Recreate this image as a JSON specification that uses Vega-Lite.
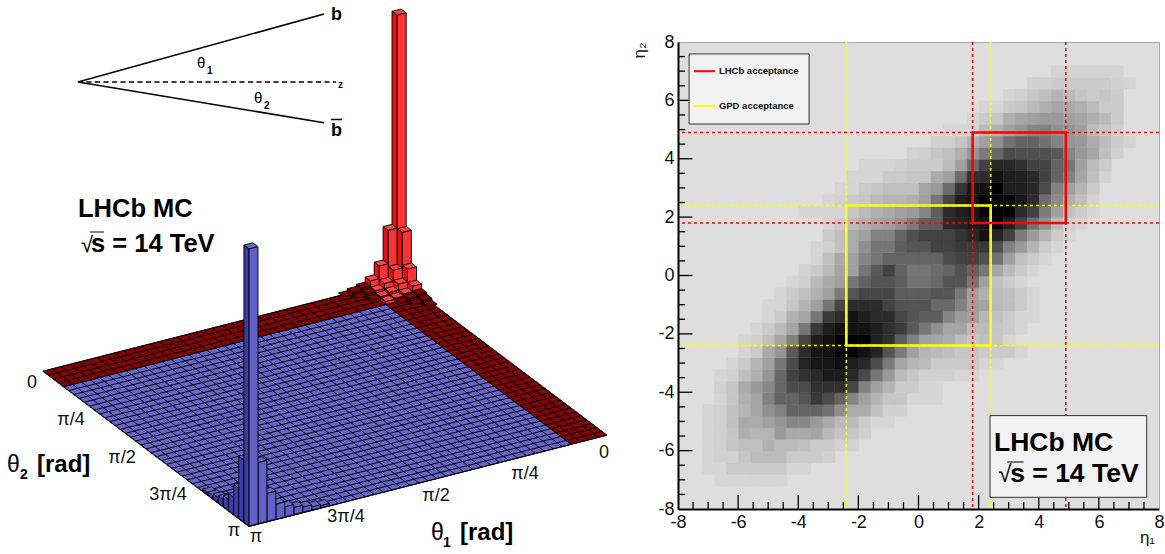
{"$schema":"https://vega.github.io/schema/vega-lite/v6.json","padding":0,"spacing":0,"bounds":"flush","background":"white","config":{"font":"Liberation Sans","view":{"stroke":null}},
"datasets":{
"surface":[{"p":1,"f":"d","x":401,"y":280},{"p":1,"f":"d","x":43,"y":371.2},{"p":1,"f":"d","x":249,"y":526.4},{"p":1,"f":"d","x":607,"y":435.2},{"p":2,"f":"b","x":385.8,"y":304.6},{"p":2,"f":"b","x":63.6,"y":386.7},{"p":2,"f":"b","x":249,"y":526.4},{"p":2,"f":"b","x":571.2,"y":444.3}],
"mesh":[{"l":"i0","x":401,"y":280},{"l":"i0","x":607,"y":435.2},{"l":"i1","x":392.1,"y":282.3},{"l":"i1","x":598.1,"y":437.5},{"l":"i2","x":383.1,"y":284.6},{"l":"i2","x":589.1,"y":439.8},{"l":"i3","x":374.2,"y":286.8},{"l":"i3","x":580.2,"y":442},{"l":"i4","x":365.2,"y":289.1},{"l":"i4","x":571.2,"y":444.3},{"l":"i5","x":356.3,"y":291.4},{"l":"i5","x":562.3,"y":446.6},{"l":"i6","x":347.3,"y":293.7},{"l":"i6","x":553.3,"y":448.9},{"l":"i7","x":338.4,"y":296},{"l":"i7","x":544.4,"y":451.2},{"l":"i8","x":329.4,"y":298.2},{"l":"i8","x":535.4,"y":453.4},{"l":"i9","x":320.5,"y":300.5},{"l":"i9","x":526.5,"y":455.7},{"l":"i10","x":311.5,"y":302.8},{"l":"i10","x":517.5,"y":458},{"l":"i11","x":302.6,"y":305.1},{"l":"i11","x":508.6,"y":460.3},{"l":"i12","x":293.6,"y":307.4},{"l":"i12","x":499.6,"y":462.6},{"l":"i13","x":284.7,"y":309.6},{"l":"i13","x":490.7,"y":464.8},{"l":"i14","x":275.7,"y":311.9},{"l":"i14","x":481.7,"y":467.1},{"l":"i15","x":266.8,"y":314.2},{"l":"i15","x":472.8,"y":469.4},{"l":"i16","x":257.8,"y":316.5},{"l":"i16","x":463.8,"y":471.7},{"l":"i17","x":248.9,"y":318.8},{"l":"i17","x":454.9,"y":474},{"l":"i18","x":239.9,"y":321},{"l":"i18","x":445.9,"y":476.2},{"l":"i19","x":231,"y":323.3},{"l":"i19","x":437,"y":478.5},{"l":"i20","x":222,"y":325.6},{"l":"i20","x":428,"y":480.8},{"l":"i21","x":213.1,"y":327.9},{"l":"i21","x":419.1,"y":483.1},{"l":"i22","x":204.1,"y":330.2},{"l":"i22","x":410.1,"y":485.4},{"l":"i23","x":195.2,"y":332.4},{"l":"i23","x":401.2,"y":487.6},{"l":"i24","x":186.2,"y":334.7},{"l":"i24","x":392.2,"y":489.9},{"l":"i25","x":177.3,"y":337},{"l":"i25","x":383.3,"y":492.2},{"l":"i26","x":168.3,"y":339.3},{"l":"i26","x":374.3,"y":494.5},{"l":"i27","x":159.4,"y":341.6},{"l":"i27","x":365.4,"y":496.8},{"l":"i28","x":150.4,"y":343.8},{"l":"i28","x":356.4,"y":499},{"l":"i29","x":141.5,"y":346.1},{"l":"i29","x":347.5,"y":501.3},{"l":"i30","x":132.5,"y":348.4},{"l":"i30","x":338.5,"y":503.6},{"l":"i31","x":123.6,"y":350.7},{"l":"i31","x":329.6,"y":505.9},{"l":"i32","x":114.6,"y":353},{"l":"i32","x":320.6,"y":508.2},{"l":"i33","x":105.7,"y":355.2},{"l":"i33","x":311.7,"y":510.4},{"l":"i34","x":96.7,"y":357.5},{"l":"i34","x":302.7,"y":512.7},{"l":"i35","x":87.8,"y":359.8},{"l":"i35","x":293.8,"y":515},{"l":"i36","x":78.8,"y":362.1},{"l":"i36","x":284.8,"y":517.3},{"l":"i37","x":69.9,"y":364.4},{"l":"i37","x":275.9,"y":519.6},{"l":"i38","x":60.9,"y":366.6},{"l":"i38","x":266.9,"y":521.8},{"l":"i39","x":52,"y":368.9},{"l":"i39","x":258,"y":524.1},{"l":"i40","x":43,"y":371.2},{"l":"i40","x":249,"y":526.4},
{"l":"j0","x":401,"y":280},{"l":"j0","x":43,"y":371.2},{"l":"j1","x":406.2,"y":283.9},{"l":"j1","x":48.2,"y":375.1},{"l":"j2","x":411.3,"y":287.8},{"l":"j2","x":53.3,"y":379},{"l":"j3","x":416.5,"y":291.6},{"l":"j3","x":58.5,"y":382.8},{"l":"j4","x":421.6,"y":295.5},{"l":"j4","x":63.6,"y":386.7},{"l":"j5","x":426.8,"y":299.4},{"l":"j5","x":68.8,"y":390.6},{"l":"j6","x":431.9,"y":303.3},{"l":"j6","x":73.9,"y":394.5},{"l":"j7","x":437.1,"y":307.2},{"l":"j7","x":79.1,"y":398.4},{"l":"j8","x":442.2,"y":311},{"l":"j8","x":84.2,"y":402.2},{"l":"j9","x":447.4,"y":314.9},{"l":"j9","x":89.4,"y":406.1},{"l":"j10","x":452.5,"y":318.8},{"l":"j10","x":94.5,"y":410},{"l":"j11","x":457.7,"y":322.7},{"l":"j11","x":99.7,"y":413.9},{"l":"j12","x":462.8,"y":326.6},{"l":"j12","x":104.8,"y":417.8},{"l":"j13","x":468,"y":330.4},{"l":"j13","x":110,"y":421.6},{"l":"j14","x":473.1,"y":334.3},{"l":"j14","x":115.1,"y":425.5},{"l":"j15","x":478.3,"y":338.2},{"l":"j15","x":120.3,"y":429.4},{"l":"j16","x":483.4,"y":342.1},{"l":"j16","x":125.4,"y":433.3},{"l":"j17","x":488.6,"y":346},{"l":"j17","x":130.6,"y":437.2},{"l":"j18","x":493.7,"y":349.8},{"l":"j18","x":135.7,"y":441},{"l":"j19","x":498.9,"y":353.7},{"l":"j19","x":140.9,"y":444.9},{"l":"j20","x":504,"y":357.6},{"l":"j20","x":146,"y":448.8},{"l":"j21","x":509.2,"y":361.5},{"l":"j21","x":151.2,"y":452.7},{"l":"j22","x":514.3,"y":365.4},{"l":"j22","x":156.3,"y":456.6},{"l":"j23","x":519.5,"y":369.2},{"l":"j23","x":161.5,"y":460.4},{"l":"j24","x":524.6,"y":373.1},{"l":"j24","x":166.6,"y":464.3},{"l":"j25","x":529.8,"y":377},{"l":"j25","x":171.8,"y":468.2},{"l":"j26","x":534.9,"y":380.9},{"l":"j26","x":176.9,"y":472.1},{"l":"j27","x":540.1,"y":384.8},{"l":"j27","x":182.1,"y":476},{"l":"j28","x":545.2,"y":388.6},{"l":"j28","x":187.2,"y":479.8},{"l":"j29","x":550.4,"y":392.5},{"l":"j29","x":192.4,"y":483.7},{"l":"j30","x":555.5,"y":396.4},{"l":"j30","x":197.5,"y":487.6},{"l":"j31","x":560.7,"y":400.3},{"l":"j31","x":202.7,"y":491.5},{"l":"j32","x":565.8,"y":404.2},{"l":"j32","x":207.8,"y":495.4},{"l":"j33","x":571,"y":408},{"l":"j33","x":213,"y":499.2},{"l":"j34","x":576.1,"y":411.9},{"l":"j34","x":218.1,"y":503.1},{"l":"j35","x":581.3,"y":415.8},{"l":"j35","x":223.3,"y":507},{"l":"j36","x":586.4,"y":419.7},{"l":"j36","x":228.4,"y":510.9},{"l":"j37","x":591.6,"y":423.6},{"l":"j37","x":233.6,"y":514.8},{"l":"j38","x":596.7,"y":427.4},{"l":"j38","x":238.7,"y":518.6},{"l":"j39","x":601.9,"y":431.3},{"l":"j39","x":243.9,"y":522.5},{"l":"j40","x":607,"y":435.2},{"l":"j40","x":249,"y":526.4}],
"bars":[
{"p":10,"f":"t","x":401,"y":9},{"p":10,"f":"t","x":392,"y":11.3},{"p":10,"f":"t","x":397.2,"y":15.2},{"p":10,"f":"t","x":406.2,"y":12.9},
{"p":11,"f":"l","x":392,"y":11.3},{"p":11,"f":"l","x":397.2,"y":15.2},{"p":11,"f":"l","x":397.2,"y":286.2},{"p":11,"f":"l","x":392,"y":282.3},
{"p":12,"f":"r","x":406.2,"y":12.9},{"p":12,"f":"r","x":397.2,"y":15.2},{"p":12,"f":"r","x":397.2,"y":286.2},{"p":12,"f":"r","x":406.2,"y":283.9},
{"p":13,"f":"t","x":392,"y":224.3},{"p":13,"f":"t","x":383.1,"y":226.6},{"p":13,"f":"t","x":388.3,"y":230.4},{"p":13,"f":"t","x":397.2,"y":228.2},
{"p":14,"f":"l","x":383.1,"y":226.6},{"p":14,"f":"l","x":388.3,"y":230.4},{"p":14,"f":"l","x":388.3,"y":288.4},{"p":14,"f":"l","x":383.1,"y":284.6},
{"p":15,"f":"r","x":397.2,"y":228.2},{"p":15,"f":"r","x":388.3,"y":230.4},{"p":15,"f":"r","x":388.3,"y":288.4},{"p":15,"f":"r","x":397.2,"y":286.2},
{"p":16,"f":"t","x":406.2,"y":226.4},{"p":16,"f":"t","x":397.2,"y":228.7},{"p":16,"f":"t","x":402.4,"y":232.5},{"p":16,"f":"t","x":411.3,"y":230.3},
{"p":17,"f":"l","x":397.2,"y":228.7},{"p":17,"f":"l","x":402.4,"y":232.5},{"p":17,"f":"l","x":402.4,"y":290},{"p":17,"f":"l","x":397.2,"y":286.2},
{"p":18,"f":"r","x":411.3,"y":230.3},{"p":18,"f":"r","x":402.4,"y":232.5},{"p":18,"f":"r","x":402.4,"y":290},{"p":18,"f":"r","x":411.3,"y":287.8},
{"p":19,"f":"t","x":383.1,"y":260},{"p":19,"f":"t","x":374.2,"y":262.2},{"p":19,"f":"t","x":379.3,"y":266.1},{"p":19,"f":"t","x":388.3,"y":263.8},
{"p":20,"f":"l","x":374.2,"y":262.2},{"p":20,"f":"l","x":379.3,"y":266.1},{"p":20,"f":"l","x":379.3,"y":290.7},{"p":20,"f":"l","x":374.2,"y":286.8},
{"p":21,"f":"r","x":388.3,"y":263.8},{"p":21,"f":"r","x":379.3,"y":266.1},{"p":21,"f":"r","x":379.3,"y":290.7},{"p":21,"f":"r","x":388.3,"y":288.4},
{"p":22,"f":"t","x":397.2,"y":264.2},{"p":22,"f":"t","x":388.3,"y":266.4},{"p":22,"f":"t","x":393.4,"y":270.3},{"p":22,"f":"t","x":402.4,"y":268},
{"p":23,"f":"l","x":388.3,"y":266.4},{"p":23,"f":"l","x":393.4,"y":270.3},{"p":23,"f":"l","x":393.4,"y":292.3},{"p":23,"f":"l","x":388.3,"y":288.4},
{"p":24,"f":"r","x":402.4,"y":268},{"p":24,"f":"r","x":393.4,"y":270.3},{"p":24,"f":"r","x":393.4,"y":292.3},{"p":24,"f":"r","x":402.4,"y":290},
{"p":25,"f":"t","x":411.3,"y":263},{"p":25,"f":"t","x":402.4,"y":265.2},{"p":25,"f":"t","x":407.5,"y":269.1},{"p":25,"f":"t","x":416.5,"y":266.8},
{"p":26,"f":"l","x":402.4,"y":265.2},{"p":26,"f":"l","x":407.5,"y":269.1},{"p":26,"f":"l","x":407.5,"y":293.9},{"p":26,"f":"l","x":402.4,"y":290},
{"p":27,"f":"r","x":416.5,"y":266.8},{"p":27,"f":"r","x":407.5,"y":269.1},{"p":27,"f":"r","x":407.5,"y":293.9},{"p":27,"f":"r","x":416.5,"y":291.6},
{"p":28,"f":"t","x":374.2,"y":274.8},{"p":28,"f":"t","x":365.2,"y":277.1},{"p":28,"f":"t","x":370.4,"y":281},{"p":28,"f":"t","x":379.3,"y":278.7},
{"p":29,"f":"l","x":365.2,"y":277.1},{"p":29,"f":"l","x":370.4,"y":281},{"p":29,"f":"l","x":370.4,"y":293},{"p":29,"f":"l","x":365.2,"y":289.1},
{"p":30,"f":"r","x":379.3,"y":278.7},{"p":30,"f":"r","x":370.4,"y":281},{"p":30,"f":"r","x":370.4,"y":293},{"p":30,"f":"r","x":379.3,"y":290.7},
{"p":31,"f":"t","x":388.3,"y":277.4},{"p":31,"f":"t","x":379.3,"y":279.7},{"p":31,"f":"t","x":384.5,"y":283.6},{"p":31,"f":"t","x":393.4,"y":281.3},
{"p":32,"f":"l","x":379.3,"y":279.7},{"p":32,"f":"l","x":384.5,"y":283.6},{"p":32,"f":"l","x":384.5,"y":294.6},{"p":32,"f":"l","x":379.3,"y":290.7},
{"p":33,"f":"r","x":393.4,"y":281.3},{"p":33,"f":"r","x":384.5,"y":283.6},{"p":33,"f":"r","x":384.5,"y":294.6},{"p":33,"f":"r","x":393.4,"y":292.3},
{"p":34,"f":"t","x":402.4,"y":278},{"p":34,"f":"t","x":393.4,"y":280.3},{"p":34,"f":"t","x":398.6,"y":284.2},{"p":34,"f":"t","x":407.5,"y":281.9},
{"p":35,"f":"l","x":393.4,"y":280.3},{"p":35,"f":"l","x":398.6,"y":284.2},{"p":35,"f":"l","x":398.6,"y":296.2},{"p":35,"f":"l","x":393.4,"y":292.3},
{"p":36,"f":"r","x":407.5,"y":281.9},{"p":36,"f":"r","x":398.6,"y":284.2},{"p":36,"f":"r","x":398.6,"y":296.2},{"p":36,"f":"r","x":407.5,"y":293.9},
{"p":37,"f":"t","x":416.5,"y":280.1},{"p":37,"f":"t","x":407.5,"y":282.4},{"p":37,"f":"t","x":412.7,"y":286.3},{"p":37,"f":"t","x":421.6,"y":284},
{"p":38,"f":"l","x":407.5,"y":282.4},{"p":38,"f":"l","x":412.7,"y":286.3},{"p":38,"f":"l","x":412.7,"y":297.8},{"p":38,"f":"l","x":407.5,"y":293.9},
{"p":39,"f":"r","x":421.6,"y":284},{"p":39,"f":"r","x":412.7,"y":286.3},{"p":39,"f":"r","x":412.7,"y":297.8},{"p":39,"f":"r","x":421.6,"y":295.5},
{"p":40,"f":"d","x":365.2,"y":282.1},{"p":40,"f":"d","x":356.3,"y":284.4},{"p":40,"f":"d","x":361.4,"y":288.3},{"p":40,"f":"d","x":370.4,"y":286},
{"p":41,"f":"e","x":356.3,"y":284.4},{"p":41,"f":"e","x":361.4,"y":288.3},{"p":41,"f":"e","x":361.4,"y":295.3},{"p":41,"f":"e","x":356.3,"y":291.4},
{"p":42,"f":"e","x":370.4,"y":286},{"p":42,"f":"e","x":361.4,"y":288.3},{"p":42,"f":"e","x":361.4,"y":295.3},{"p":42,"f":"e","x":370.4,"y":293},
{"p":43,"f":"t","x":379.3,"y":284.7},{"p":43,"f":"t","x":370.4,"y":287},{"p":43,"f":"t","x":375.5,"y":290.9},{"p":43,"f":"t","x":384.5,"y":288.6},
{"p":44,"f":"l","x":370.4,"y":287},{"p":44,"f":"l","x":375.5,"y":290.9},{"p":44,"f":"l","x":375.5,"y":296.9},{"p":44,"f":"l","x":370.4,"y":293},
{"p":45,"f":"r","x":384.5,"y":288.6},{"p":45,"f":"r","x":375.5,"y":290.9},{"p":45,"f":"r","x":375.5,"y":296.9},{"p":45,"f":"r","x":384.5,"y":294.6},
{"p":46,"f":"t","x":393.4,"y":286.3},{"p":46,"f":"t","x":384.5,"y":288.6},{"p":46,"f":"t","x":389.6,"y":292.5},{"p":46,"f":"t","x":398.6,"y":290.2},
{"p":47,"f":"l","x":384.5,"y":288.6},{"p":47,"f":"l","x":389.6,"y":292.5},{"p":47,"f":"l","x":389.6,"y":298.5},{"p":47,"f":"l","x":384.5,"y":294.6},
{"p":48,"f":"r","x":398.6,"y":290.2},{"p":48,"f":"r","x":389.6,"y":292.5},{"p":48,"f":"r","x":389.6,"y":298.5},{"p":48,"f":"r","x":398.6,"y":296.2},
{"p":49,"f":"t","x":407.5,"y":287.9},{"p":49,"f":"t","x":398.6,"y":290.2},{"p":49,"f":"t","x":403.7,"y":294.1},{"p":49,"f":"t","x":412.7,"y":291.8},
{"p":50,"f":"l","x":398.6,"y":290.2},{"p":50,"f":"l","x":403.7,"y":294.1},{"p":50,"f":"l","x":403.7,"y":300.1},{"p":50,"f":"l","x":398.6,"y":296.2},
{"p":51,"f":"r","x":412.7,"y":291.8},{"p":51,"f":"r","x":403.7,"y":294.1},{"p":51,"f":"r","x":403.7,"y":300.1},{"p":51,"f":"r","x":412.7,"y":297.8},
{"p":52,"f":"d","x":421.6,"y":288.5},{"p":52,"f":"d","x":412.7,"y":290.8},{"p":52,"f":"d","x":417.8,"y":294.7},{"p":52,"f":"d","x":426.8,"y":292.4},
{"p":53,"f":"e","x":412.7,"y":290.8},{"p":53,"f":"e","x":417.8,"y":294.7},{"p":53,"f":"e","x":417.8,"y":301.7},{"p":53,"f":"e","x":412.7,"y":297.8},
{"p":54,"f":"e","x":426.8,"y":292.4},{"p":54,"f":"e","x":417.8,"y":294.7},{"p":54,"f":"e","x":417.8,"y":301.7},{"p":54,"f":"e","x":426.8,"y":299.4},
{"p":55,"f":"d","x":356.3,"y":286.4},{"p":55,"f":"d","x":347.3,"y":288.7},{"p":55,"f":"d","x":352.5,"y":292.6},{"p":55,"f":"d","x":361.4,"y":290.3},
{"p":56,"f":"e","x":347.3,"y":288.7},{"p":56,"f":"e","x":352.5,"y":292.6},{"p":56,"f":"e","x":352.5,"y":297.6},{"p":56,"f":"e","x":347.3,"y":293.7},
{"p":57,"f":"e","x":361.4,"y":290.3},{"p":57,"f":"e","x":352.5,"y":292.6},{"p":57,"f":"e","x":352.5,"y":297.6},{"p":57,"f":"e","x":361.4,"y":295.3},
{"p":58,"f":"d","x":370.4,"y":288},{"p":58,"f":"d","x":361.4,"y":290.3},{"p":58,"f":"d","x":366.6,"y":294.2},{"p":58,"f":"d","x":375.5,"y":291.9},
{"p":59,"f":"e","x":361.4,"y":290.3},{"p":59,"f":"e","x":366.6,"y":294.2},{"p":59,"f":"e","x":366.6,"y":299.2},{"p":59,"f":"e","x":361.4,"y":295.3},
{"p":60,"f":"e","x":375.5,"y":291.9},{"p":60,"f":"e","x":366.6,"y":294.2},{"p":60,"f":"e","x":366.6,"y":299.2},{"p":60,"f":"e","x":375.5,"y":296.9},
{"p":61,"f":"t","x":384.5,"y":290.6},{"p":61,"f":"t","x":375.5,"y":292.9},{"p":61,"f":"t","x":380.7,"y":296.8},{"p":61,"f":"t","x":389.6,"y":294.5},
{"p":62,"f":"l","x":375.5,"y":292.9},{"p":62,"f":"l","x":380.7,"y":296.8},{"p":62,"f":"l","x":380.7,"y":300.8},{"p":62,"f":"l","x":375.5,"y":296.9},
{"p":63,"f":"r","x":389.6,"y":294.5},{"p":63,"f":"r","x":380.7,"y":296.8},{"p":63,"f":"r","x":380.7,"y":300.8},{"p":63,"f":"r","x":389.6,"y":298.5},
{"p":64,"f":"t","x":398.6,"y":292.2},{"p":64,"f":"t","x":389.6,"y":294.5},{"p":64,"f":"t","x":394.8,"y":298.4},{"p":64,"f":"t","x":403.7,"y":296.1},
{"p":65,"f":"l","x":389.6,"y":294.5},{"p":65,"f":"l","x":394.8,"y":298.4},{"p":65,"f":"l","x":394.8,"y":302.4},{"p":65,"f":"l","x":389.6,"y":298.5},
{"p":66,"f":"r","x":403.7,"y":296.1},{"p":66,"f":"r","x":394.8,"y":298.4},{"p":66,"f":"r","x":394.8,"y":302.4},{"p":66,"f":"r","x":403.7,"y":300.1},
{"p":67,"f":"d","x":412.7,"y":292.8},{"p":67,"f":"d","x":403.7,"y":295.1},{"p":67,"f":"d","x":408.9,"y":299},{"p":67,"f":"d","x":417.8,"y":296.7},
{"p":68,"f":"e","x":403.7,"y":295.1},{"p":68,"f":"e","x":408.9,"y":299},{"p":68,"f":"e","x":408.9,"y":304},{"p":68,"f":"e","x":403.7,"y":300.1},
{"p":69,"f":"e","x":417.8,"y":296.7},{"p":69,"f":"e","x":408.9,"y":299},{"p":69,"f":"e","x":408.9,"y":304},{"p":69,"f":"e","x":417.8,"y":301.7},
{"p":70,"f":"d","x":426.8,"y":294.4},{"p":70,"f":"d","x":417.8,"y":296.7},{"p":70,"f":"d","x":423,"y":300.6},{"p":70,"f":"d","x":431.9,"y":298.3},
{"p":71,"f":"e","x":417.8,"y":296.7},{"p":71,"f":"e","x":423,"y":300.6},{"p":71,"f":"e","x":423,"y":305.6},{"p":71,"f":"e","x":417.8,"y":301.7},
{"p":72,"f":"e","x":431.9,"y":298.3},{"p":72,"f":"e","x":423,"y":300.6},{"p":72,"f":"e","x":423,"y":305.6},{"p":72,"f":"e","x":431.9,"y":303.3},
{"p":73,"f":"d","x":347.3,"y":290.7},{"p":73,"f":"d","x":338.4,"y":293},{"p":73,"f":"d","x":343.5,"y":296.8},{"p":73,"f":"d","x":352.5,"y":294.6},
{"p":74,"f":"d","x":361.4,"y":292.3},{"p":74,"f":"d","x":352.5,"y":294.6},{"p":74,"f":"d","x":357.6,"y":298.4},{"p":74,"f":"d","x":366.6,"y":296.2},
{"p":75,"f":"d","x":375.5,"y":293.9},{"p":75,"f":"d","x":366.6,"y":296.2},{"p":75,"f":"d","x":371.7,"y":300},{"p":75,"f":"d","x":380.7,"y":297.8},
{"p":76,"f":"t","x":389.6,"y":295.5},{"p":76,"f":"t","x":380.7,"y":297.8},{"p":76,"f":"t","x":385.8,"y":301.6},{"p":76,"f":"t","x":394.8,"y":299.4},
{"p":77,"f":"l","x":380.7,"y":297.8},{"p":77,"f":"l","x":385.8,"y":301.6},{"p":77,"f":"l","x":385.8,"y":304.6},{"p":77,"f":"l","x":380.7,"y":300.8},
{"p":78,"f":"r","x":394.8,"y":299.4},{"p":78,"f":"r","x":385.8,"y":301.6},{"p":78,"f":"r","x":385.8,"y":304.6},{"p":78,"f":"r","x":394.8,"y":302.4},
{"p":79,"f":"d","x":403.7,"y":297.1},{"p":79,"f":"d","x":394.8,"y":299.4},{"p":79,"f":"d","x":399.9,"y":303.2},{"p":79,"f":"d","x":408.9,"y":301},
{"p":80,"f":"d","x":417.8,"y":298.7},{"p":80,"f":"d","x":408.9,"y":301},{"p":80,"f":"d","x":414,"y":304.8},{"p":80,"f":"d","x":423,"y":302.6},
{"p":81,"f":"d","x":431.9,"y":300.3},{"p":81,"f":"d","x":423,"y":302.6},{"p":81,"f":"d","x":428.1,"y":306.4},{"p":81,"f":"d","x":437,"y":304.2},
{"p":90,"f":"b","x":324.4,"y":499.6},{"p":90,"f":"b","x":315.5,"y":501.9},{"p":90,"f":"b","x":320.6,"y":505.8},{"p":90,"f":"b","x":329.6,"y":503.5},
{"p":91,"f":"n","x":329.6,"y":503.5},{"p":91,"f":"n","x":320.6,"y":505.8},{"p":91,"f":"n","x":320.6,"y":507.8},{"p":91,"f":"n","x":329.6,"y":505.5},
{"p":92,"f":"b","x":315.5,"y":500.9},{"p":92,"f":"b","x":306.5,"y":503.2},{"p":92,"f":"b","x":311.7,"y":507},{"p":92,"f":"b","x":320.6,"y":504.8},
{"p":93,"f":"n","x":320.6,"y":504.8},{"p":93,"f":"n","x":311.7,"y":507},{"p":93,"f":"n","x":311.7,"y":510},{"p":93,"f":"n","x":320.6,"y":507.8},
{"p":94,"f":"b","x":306.5,"y":501.2},{"p":94,"f":"b","x":297.6,"y":503.4},{"p":94,"f":"b","x":302.7,"y":507.3},{"p":94,"f":"b","x":311.7,"y":505},
{"p":95,"f":"n","x":311.7,"y":505},{"p":95,"f":"n","x":302.7,"y":507.3},{"p":95,"f":"n","x":302.7,"y":512.3},{"p":95,"f":"n","x":311.7,"y":510},
{"p":96,"f":"b","x":297.6,"y":501.4},{"p":96,"f":"b","x":288.6,"y":503.7},{"p":96,"f":"b","x":293.8,"y":507.6},{"p":96,"f":"b","x":302.7,"y":505.3},
{"p":97,"f":"n","x":302.7,"y":505.3},{"p":97,"f":"n","x":293.8,"y":507.6},{"p":97,"f":"n","x":293.8,"y":514.6},{"p":97,"f":"n","x":302.7,"y":512.3},
{"p":98,"f":"b","x":288.6,"y":500.7},{"p":98,"f":"b","x":279.7,"y":503},{"p":98,"f":"b","x":284.8,"y":506.9},{"p":98,"f":"b","x":293.8,"y":504.6},
{"p":99,"f":"n","x":293.8,"y":504.6},{"p":99,"f":"n","x":284.8,"y":506.9},{"p":99,"f":"n","x":284.8,"y":516.9},{"p":99,"f":"n","x":293.8,"y":514.6},
{"p":100,"f":"b","x":279.7,"y":498},{"p":100,"f":"b","x":270.7,"y":500.3},{"p":100,"f":"b","x":275.9,"y":504.2},{"p":100,"f":"b","x":284.8,"y":501.9},
{"p":101,"f":"n","x":284.8,"y":501.9},{"p":101,"f":"n","x":275.9,"y":504.2},{"p":101,"f":"n","x":275.9,"y":519.2},{"p":101,"f":"n","x":284.8,"y":516.9},
{"p":102,"f":"b","x":270.7,"y":487.3},{"p":102,"f":"b","x":261.8,"y":489.6},{"p":102,"f":"b","x":266.9,"y":493.4},{"p":102,"f":"b","x":275.9,"y":491.2},
{"p":103,"f":"n","x":275.9,"y":491.2},{"p":103,"f":"n","x":266.9,"y":493.4},{"p":103,"f":"n","x":266.9,"y":521.4},{"p":103,"f":"n","x":275.9,"y":519.2},
{"p":104,"f":"b","x":261.8,"y":456.6},{"p":104,"f":"b","x":252.8,"y":458.8},{"p":104,"f":"b","x":258,"y":462.7},{"p":104,"f":"b","x":266.9,"y":460.4},
{"p":105,"f":"n","x":266.9,"y":460.4},{"p":105,"f":"n","x":258,"y":462.7},{"p":105,"f":"n","x":258,"y":523.7},{"p":105,"f":"n","x":266.9,"y":521.4},
{"p":110,"f":"b","x":211.6,"y":486.8},{"p":110,"f":"b","x":202.7,"y":489.1},{"p":110,"f":"b","x":207.8,"y":493},{"p":110,"f":"b","x":216.8,"y":490.7},
{"p":111,"f":"m","x":202.7,"y":489.1},{"p":111,"f":"m","x":207.8,"y":493},{"p":111,"f":"m","x":207.8,"y":495},{"p":111,"f":"m","x":202.7,"y":491.1},
{"p":112,"f":"b","x":216.8,"y":489.7},{"p":112,"f":"b","x":207.8,"y":492},{"p":112,"f":"b","x":213,"y":495.8},{"p":112,"f":"b","x":221.9,"y":493.6},
{"p":113,"f":"m","x":207.8,"y":492},{"p":113,"f":"m","x":213,"y":495.8},{"p":113,"f":"m","x":213,"y":498.8},{"p":113,"f":"m","x":207.8,"y":495},
{"p":114,"f":"b","x":221.9,"y":491.6},{"p":114,"f":"b","x":213,"y":493.8},{"p":114,"f":"b","x":218.1,"y":497.7},{"p":114,"f":"b","x":227.1,"y":495.4},
{"p":115,"f":"m","x":213,"y":493.8},{"p":115,"f":"m","x":218.1,"y":497.7},{"p":115,"f":"m","x":218.1,"y":502.7},{"p":115,"f":"m","x":213,"y":498.8},
{"p":116,"f":"b","x":227.1,"y":493.4},{"p":116,"f":"b","x":218.1,"y":495.7},{"p":116,"f":"b","x":223.3,"y":499.6},{"p":116,"f":"b","x":232.2,"y":497.3},
{"p":117,"f":"m","x":218.1,"y":495.7},{"p":117,"f":"m","x":223.3,"y":499.6},{"p":117,"f":"m","x":223.3,"y":506.6},{"p":117,"f":"m","x":218.1,"y":502.7},
{"p":118,"f":"b","x":232.2,"y":493.3},{"p":118,"f":"b","x":223.3,"y":495.6},{"p":118,"f":"b","x":228.4,"y":499.5},{"p":118,"f":"b","x":237.4,"y":497.2},
{"p":119,"f":"m","x":223.3,"y":495.6},{"p":119,"f":"m","x":228.4,"y":499.5},{"p":119,"f":"m","x":228.4,"y":510.5},{"p":119,"f":"m","x":223.3,"y":506.6},
{"p":120,"f":"b","x":237.4,"y":491.2},{"p":120,"f":"b","x":228.4,"y":493.5},{"p":120,"f":"b","x":233.6,"y":497.4},{"p":120,"f":"b","x":242.5,"y":495.1},
{"p":121,"f":"m","x":228.4,"y":493.5},{"p":121,"f":"m","x":233.6,"y":497.4},{"p":121,"f":"m","x":233.6,"y":514.4},{"p":121,"f":"m","x":228.4,"y":510.5},
{"p":122,"f":"b","x":242.5,"y":482.1},{"p":122,"f":"b","x":233.6,"y":484.4},{"p":122,"f":"b","x":238.7,"y":488.2},{"p":122,"f":"b","x":247.7,"y":485.9},
{"p":123,"f":"m","x":233.6,"y":484.4},{"p":123,"f":"m","x":238.7,"y":488.2},{"p":123,"f":"m","x":238.7,"y":518.2},{"p":123,"f":"m","x":233.6,"y":514.4},
{"p":124,"f":"b","x":247.7,"y":453.9},{"p":124,"f":"b","x":238.7,"y":456.2},{"p":124,"f":"b","x":243.9,"y":460.1},{"p":124,"f":"b","x":252.8,"y":457.8},
{"p":125,"f":"m","x":238.7,"y":456.2},{"p":125,"f":"m","x":243.9,"y":460.1},{"p":125,"f":"m","x":243.9,"y":522.1},{"p":125,"f":"m","x":238.7,"y":518.2},
{"p":130,"f":"b","x":252.8,"y":242.8},{"p":130,"f":"b","x":243.9,"y":245.1},{"p":130,"f":"b","x":249,"y":249},{"p":130,"f":"b","x":258,"y":246.7},
{"p":131,"f":"m","x":243.9,"y":245.1},{"p":131,"f":"m","x":249,"y":249},{"p":131,"f":"m","x":249,"y":526},{"p":131,"f":"m","x":243.9,"y":522.1},
{"p":132,"f":"n","x":258,"y":246.7},{"p":132,"f":"n","x":249,"y":249},{"p":132,"f":"n","x":249,"y":526},{"p":132,"f":"n","x":258,"y":523.7}],
"ticks":[{"v":-6,"a":-8,"b":-7.52},{"v":-4,"a":-8,"b":-7.52},{"v":-2,"a":-8,"b":-7.52},{"v":0,"a":-8,"b":-7.52},{"v":2,"a":-8,"b":-7.52},{"v":4,"a":-8,"b":-7.52},{"v":6,"a":-8,"b":-7.52},{"v":-7.5,"a":-8,"b":-7.76},{"v":-7,"a":-8,"b":-7.76},{"v":-6.5,"a":-8,"b":-7.76},{"v":-5.5,"a":-8,"b":-7.76},{"v":-5,"a":-8,"b":-7.76},{"v":-4.5,"a":-8,"b":-7.76},{"v":-3.5,"a":-8,"b":-7.76},{"v":-3,"a":-8,"b":-7.76},{"v":-2.5,"a":-8,"b":-7.76},{"v":-1.5,"a":-8,"b":-7.76},{"v":-1,"a":-8,"b":-7.76},{"v":-0.5,"a":-8,"b":-7.76},{"v":0.5,"a":-8,"b":-7.76},{"v":1,"a":-8,"b":-7.76},{"v":1.5,"a":-8,"b":-7.76},{"v":2.5,"a":-8,"b":-7.76},{"v":3,"a":-8,"b":-7.76},{"v":3.5,"a":-8,"b":-7.76},{"v":4.5,"a":-8,"b":-7.76},{"v":5,"a":-8,"b":-7.76},{"v":5.5,"a":-8,"b":-7.76},{"v":6.5,"a":-8,"b":-7.76},{"v":7,"a":-8,"b":-7.76},{"v":7.5,"a":-8,"b":-7.76}],
"heat":[{"x":-6.8,"y":-7.2,"g":215},{"x":-6.4,"y":-7.2,"g":215},{"x":-6,"y":-7.2,"g":215},{"x":-5.6,"y":-7.2,"g":215},{"x":-5.2,"y":-7.2,"g":215},{"x":-4.8,"y":-7.2,"g":215},
{"x":-7.2,"y":-6.8,"g":215},{"x":-6.8,"y":-6.8,"g":215},{"x":-6.4,"y":-6.8,"g":205},{"x":-6,"y":-6.8,"g":205},{"x":-5.6,"y":-6.8,"g":205},{"x":-5.2,"y":-6.8,"g":205},{"x":-4.8,"y":-6.8,"g":205},{"x":-4.4,"y":-6.8,"g":215},{"x":-4,"y":-6.8,"g":215},
{"x":-7.2,"y":-6.4,"g":215},{"x":-6.8,"y":-6.4,"g":210},{"x":-6.4,"y":-6.4,"g":210},{"x":-6,"y":-6.4,"g":200},{"x":-5.6,"y":-6.4,"g":190},{"x":-5.2,"y":-6.4,"g":190},{"x":-4.8,"y":-6.4,"g":190},{"x":-4.4,"y":-6.4,"g":205},{"x":-4,"y":-6.4,"g":205},{"x":-3.6,"y":-6.4,"g":205},{"x":-3.2,"y":-6.4,"g":210},
{"x":-7.2,"y":-6,"g":215},{"x":-6.8,"y":-6,"g":210},{"x":-6.4,"y":-6,"g":200},{"x":-6,"y":-6,"g":195},{"x":-5.6,"y":-6,"g":195},{"x":-5.2,"y":-6,"g":180},{"x":-4.8,"y":-6,"g":190},{"x":-4.4,"y":-6,"g":190},{"x":-4,"y":-6,"g":195},{"x":-3.6,"y":-6,"g":205},{"x":-3.2,"y":-6,"g":205},{"x":-2.8,"y":-6,"g":212},{"x":-2.4,"y":-6,"g":212},
{"x":-7.2,"y":-5.6,"g":215},{"x":-6.8,"y":-5.6,"g":210},{"x":-6.4,"y":-5.6,"g":200},{"x":-6,"y":-5.6,"g":180},{"x":-5.6,"y":-5.6,"g":185},{"x":-5.2,"y":-5.6,"g":185},{"x":-4.8,"y":-5.6,"g":160},{"x":-4.4,"y":-5.6,"g":175},{"x":-4,"y":-5.6,"g":175},{"x":-3.6,"y":-5.6,"g":170},{"x":-3.2,"y":-5.6,"g":190},{"x":-2.8,"y":-5.6,"g":200},{"x":-2.4,"y":-5.6,"g":200},{"x":-2,"y":-5.6,"g":210},
{"x":-7.2,"y":-5.2,"g":215},{"x":-6.8,"y":-5.2,"g":210},{"x":-6.4,"y":-5.2,"g":195},{"x":-6,"y":-5.2,"g":175},{"x":-5.6,"y":-5.2,"g":175},{"x":-5.2,"y":-5.2,"g":165},{"x":-4.8,"y":-5.2,"g":155},{"x":-4.4,"y":-5.2,"g":140},{"x":-4,"y":-5.2,"g":140},{"x":-3.6,"y":-5.2,"g":160},{"x":-3.2,"y":-5.2,"g":175},{"x":-2.8,"y":-5.2,"g":190},{"x":-2.4,"y":-5.2,"g":190},{"x":-2,"y":-5.2,"g":205},{"x":-1.6,"y":-5.2,"g":215},{"x":-1.2,"y":-5.2,"g":215},
{"x":-7.2,"y":-4.8,"g":215},{"x":-6.8,"y":-4.8,"g":210},{"x":-6.4,"y":-4.8,"g":195},{"x":-6,"y":-4.8,"g":185},{"x":-5.6,"y":-4.8,"g":170},{"x":-5.2,"y":-4.8,"g":150},{"x":-4.8,"y":-4.8,"g":135},{"x":-4.4,"y":-4.8,"g":105},{"x":-4,"y":-4.8,"g":105},{"x":-3.6,"y":-4.8,"g":105},{"x":-3.2,"y":-4.8,"g":120},{"x":-2.8,"y":-4.8,"g":150},{"x":-2.4,"y":-4.8,"g":175},{"x":-2,"y":-4.8,"g":175},{"x":-1.6,"y":-4.8,"g":195},{"x":-1.2,"y":-4.8,"g":210},{"x":-0.8,"y":-4.8,"g":210},
{"x":-6.8,"y":-4.4,"g":215},{"x":-6.4,"y":-4.4,"g":200},{"x":-6,"y":-4.4,"g":180},{"x":-5.6,"y":-4.4,"g":170},{"x":-5.2,"y":-4.4,"g":135},{"x":-4.8,"y":-4.4,"g":105},{"x":-4.4,"y":-4.4,"g":105},{"x":-4,"y":-4.4,"g":90},{"x":-3.6,"y":-4.4,"g":60},{"x":-3.2,"y":-4.4,"g":80},{"x":-2.8,"y":-4.4,"g":105},{"x":-2.4,"y":-4.4,"g":140},{"x":-2,"y":-4.4,"g":165},{"x":-1.6,"y":-4.4,"g":185},{"x":-1.2,"y":-4.4,"g":200},{"x":-0.8,"y":-4.4,"g":200},{"x":-0.4,"y":-4.4,"g":215},{"x":0,"y":-4.4,"g":215},{"x":0.4,"y":-4.4,"g":215},
{"x":-6.8,"y":-4,"g":210},{"x":-6.4,"y":-4,"g":200},{"x":-6,"y":-4,"g":175},{"x":-5.6,"y":-4,"g":160},{"x":-5.2,"y":-4,"g":140},{"x":-4.8,"y":-4,"g":110},{"x":-4.4,"y":-4,"g":80},{"x":-4,"y":-4,"g":80},{"x":-3.6,"y":-4,"g":50},{"x":-3.2,"y":-4,"g":50},{"x":-2.8,"y":-4,"g":50},{"x":-2.4,"y":-4,"g":75},{"x":-2,"y":-4,"g":135},{"x":-1.6,"y":-4,"g":165},{"x":-1.2,"y":-4,"g":185},{"x":-0.8,"y":-4,"g":205},{"x":-0.4,"y":-4,"g":205},{"x":0,"y":-4,"g":215},{"x":0.4,"y":-4,"g":215},
{"x":-6.8,"y":-3.6,"g":215},{"x":-6.4,"y":-3.6,"g":210},{"x":-6,"y":-3.6,"g":195},{"x":-5.6,"y":-3.6,"g":180},{"x":-5.2,"y":-3.6,"g":155},{"x":-4.8,"y":-3.6,"g":110},{"x":-4.4,"y":-3.6,"g":70},{"x":-4,"y":-3.6,"g":50},{"x":-3.6,"y":-3.6,"g":40},{"x":-3.2,"y":-3.6,"g":25},{"x":-2.8,"y":-3.6,"g":25},{"x":-2.4,"y":-3.6,"g":40},{"x":-2,"y":-3.6,"g":80},{"x":-1.6,"y":-3.6,"g":125},{"x":-1.2,"y":-3.6,"g":160},{"x":-0.8,"y":-3.6,"g":190},{"x":-0.4,"y":-3.6,"g":200},{"x":0,"y":-3.6,"g":210},{"x":0.4,"y":-3.6,"g":210},{"x":0.8,"y":-3.6,"g":210},{"x":1.2,"y":-3.6,"g":215},{"x":1.6,"y":-3.6,"g":215},
{"x":-6.4,"y":-3.2,"g":215},{"x":-6,"y":-3.2,"g":205},{"x":-5.6,"y":-3.2,"g":185},{"x":-5.2,"y":-3.2,"g":165},{"x":-4.8,"y":-3.2,"g":125},{"x":-4.4,"y":-3.2,"g":80},{"x":-4,"y":-3.2,"g":35},{"x":-3.6,"y":-3.2,"g":20},{"x":-3.2,"y":-3.2,"g":20},{"x":-2.8,"y":-3.2,"g":10},{"x":-2.4,"y":-3.2,"g":30},{"x":-2,"y":-3.2,"g":40},{"x":-1.6,"y":-3.2,"g":80},{"x":-1.2,"y":-3.2,"g":130},{"x":-0.8,"y":-3.2,"g":170},{"x":-0.4,"y":-3.2,"g":185},{"x":0,"y":-3.2,"g":190},{"x":0.4,"y":-3.2,"g":205},{"x":0.8,"y":-3.2,"g":205},{"x":1.2,"y":-3.2,"g":205},{"x":1.6,"y":-3.2,"g":205},{"x":2,"y":-3.2,"g":215},{"x":2.4,"y":-3.2,"g":215},
{"x":-6,"y":-2.8,"g":215},{"x":-5.6,"y":-2.8,"g":205},{"x":-5.2,"y":-2.8,"g":175},{"x":-4.8,"y":-2.8,"g":155},{"x":-4.4,"y":-2.8,"g":95},{"x":-4,"y":-2.8,"g":45},{"x":-3.6,"y":-2.8,"g":18},{"x":-3.2,"y":-2.8,"g":15},{"x":-2.8,"y":-2.8,"g":0},{"x":-2.4,"y":-2.8,"g":5},{"x":-2,"y":-2.8,"g":15},{"x":-1.6,"y":-2.8,"g":35},{"x":-1.2,"y":-2.8,"g":90},{"x":-0.8,"y":-2.8,"g":130},{"x":-0.4,"y":-2.8,"g":165},{"x":0,"y":-2.8,"g":185},{"x":0.4,"y":-2.8,"g":190},{"x":0.8,"y":-2.8,"g":195},{"x":1.2,"y":-2.8,"g":200},{"x":1.6,"y":-2.8,"g":200},{"x":2,"y":-2.8,"g":205},{"x":2.4,"y":-2.8,"g":205},{"x":2.8,"y":-2.8,"g":205},{"x":3.2,"y":-2.8,"g":215},
{"x":-6,"y":-2.4,"g":215},{"x":-5.6,"y":-2.4,"g":210},{"x":-5.2,"y":-2.4,"g":195},{"x":-4.8,"y":-2.4,"g":170},{"x":-4.4,"y":-2.4,"g":135},{"x":-4,"y":-2.4,"g":75},{"x":-3.6,"y":-2.4,"g":30},{"x":-3.2,"y":-2.4,"g":15},{"x":-2.8,"y":-2.4,"g":0},{"x":-2.4,"y":-2.4,"g":0},{"x":-2,"y":-2.4,"g":0},{"x":-1.6,"y":-2.4,"g":30},{"x":-1.2,"y":-2.4,"g":50},{"x":-0.8,"y":-2.4,"g":100},{"x":-0.4,"y":-2.4,"g":135},{"x":0,"y":-2.4,"g":165},{"x":0.4,"y":-2.4,"g":170},{"x":0.8,"y":-2.4,"g":175},{"x":1.2,"y":-2.4,"g":190},{"x":1.6,"y":-2.4,"g":200},{"x":2,"y":-2.4,"g":195},{"x":2.4,"y":-2.4,"g":200},{"x":2.8,"y":-2.4,"g":215},
{"x":-5.6,"y":-2,"g":215},{"x":-5.2,"y":-2,"g":205},{"x":-4.8,"y":-2,"g":190},{"x":-4.4,"y":-2,"g":170},{"x":-4,"y":-2,"g":125},{"x":-3.6,"y":-2,"g":60},{"x":-3.2,"y":-2,"g":30},{"x":-2.8,"y":-2,"g":15},{"x":-2.4,"y":-2,"g":15},{"x":-2,"y":-2,"g":15},{"x":-1.6,"y":-2,"g":30},{"x":-1.2,"y":-2,"g":50},{"x":-0.8,"y":-2,"g":65},{"x":-0.4,"y":-2,"g":95},{"x":0,"y":-2,"g":125},{"x":0.4,"y":-2,"g":150},{"x":0.8,"y":-2,"g":170},{"x":1.2,"y":-2,"g":170},{"x":1.6,"y":-2,"g":190},{"x":2,"y":-2,"g":190},{"x":2.4,"y":-2,"g":200},{"x":2.8,"y":-2,"g":205},{"x":3.2,"y":-2,"g":215},
{"x":-5.2,"y":-1.6,"g":215},{"x":-4.8,"y":-1.6,"g":205},{"x":-4.4,"y":-1.6,"g":180},{"x":-4,"y":-1.6,"g":170},{"x":-3.6,"y":-1.6,"g":125},{"x":-3.2,"y":-1.6,"g":60},{"x":-2.8,"y":-1.6,"g":45},{"x":-2.4,"y":-1.6,"g":15},{"x":-2,"y":-1.6,"g":30},{"x":-1.6,"y":-1.6,"g":45},{"x":-1.2,"y":-1.6,"g":45},{"x":-0.8,"y":-1.6,"g":75},{"x":-0.4,"y":-1.6,"g":90},{"x":0,"y":-1.6,"g":100},{"x":0.4,"y":-1.6,"g":100},{"x":0.8,"y":-1.6,"g":140},{"x":1.2,"y":-1.6,"g":160},{"x":1.6,"y":-1.6,"g":165},{"x":2,"y":-1.6,"g":185},{"x":2.4,"y":-1.6,"g":195},{"x":2.8,"y":-1.6,"g":205},{"x":3.2,"y":-1.6,"g":215},{"x":3.6,"y":-1.6,"g":215},
{"x":-5.2,"y":-1.2,"g":215},{"x":-4.8,"y":-1.2,"g":215},{"x":-4.4,"y":-1.2,"g":200},{"x":-4,"y":-1.2,"g":185},{"x":-3.6,"y":-1.2,"g":165},{"x":-3.2,"y":-1.2,"g":125},{"x":-2.8,"y":-1.2,"g":75},{"x":-2.4,"y":-1.2,"g":45},{"x":-2,"y":-1.2,"g":45},{"x":-1.6,"y":-1.2,"g":45},{"x":-1.2,"y":-1.2,"g":70},{"x":-0.8,"y":-1.2,"g":90},{"x":-0.4,"y":-1.2,"g":90},{"x":0,"y":-1.2,"g":90},{"x":0.4,"y":-1.2,"g":110},{"x":0.8,"y":-1.2,"g":110},{"x":1.2,"y":-1.2,"g":135},{"x":1.6,"y":-1.2,"g":165},{"x":2,"y":-1.2,"g":170},{"x":2.4,"y":-1.2,"g":190},{"x":2.8,"y":-1.2,"g":195},{"x":3.2,"y":-1.2,"g":205},{"x":3.6,"y":-1.2,"g":215},
{"x":-4.8,"y":-0.8,"g":215},{"x":-4.4,"y":-0.8,"g":205},{"x":-4,"y":-0.8,"g":195},{"x":-3.6,"y":-0.8,"g":180},{"x":-3.2,"y":-0.8,"g":165},{"x":-2.8,"y":-0.8,"g":130},{"x":-2.4,"y":-0.8,"g":90},{"x":-2,"y":-0.8,"g":75},{"x":-1.6,"y":-0.8,"g":75},{"x":-1.2,"y":-0.8,"g":75},{"x":-0.8,"y":-0.8,"g":100},{"x":-0.4,"y":-0.8,"g":100},{"x":0,"y":-0.8,"g":100},{"x":0.4,"y":-0.8,"g":90},{"x":0.8,"y":-0.8,"g":90},{"x":1.2,"y":-0.8,"g":125},{"x":1.6,"y":-0.8,"g":165},{"x":2,"y":-0.8,"g":180},{"x":2.4,"y":-0.8,"g":190},{"x":2.8,"y":-0.8,"g":195},{"x":3.2,"y":-0.8,"g":205},{"x":3.6,"y":-0.8,"g":215},
{"x":-4.4,"y":-0.4,"g":215},{"x":-4,"y":-0.4,"g":210},{"x":-3.6,"y":-0.4,"g":190},{"x":-3.2,"y":-0.4,"g":175},{"x":-2.8,"y":-0.4,"g":165},{"x":-2.4,"y":-0.4,"g":125},{"x":-2,"y":-0.4,"g":105},{"x":-1.6,"y":-0.4,"g":90},{"x":-1.2,"y":-0.4,"g":90},{"x":-0.8,"y":-0.4,"g":100},{"x":-0.4,"y":-0.4,"g":120},{"x":0,"y":-0.4,"g":120},{"x":0.4,"y":-0.4,"g":110},{"x":0.8,"y":-0.4,"g":90},{"x":1.2,"y":-0.4,"g":90},{"x":1.6,"y":-0.4,"g":125},{"x":2,"y":-0.4,"g":165},{"x":2.4,"y":-0.4,"g":195},{"x":2.8,"y":-0.4,"g":205},{"x":3.2,"y":-0.4,"g":215},
{"x":-4,"y":0,"g":212},{"x":-3.6,"y":0,"g":205},{"x":-3.2,"y":0,"g":190},{"x":-2.8,"y":0,"g":170},{"x":-2.4,"y":0,"g":165},{"x":-2,"y":0,"g":125},{"x":-1.6,"y":0,"g":95},{"x":-1.2,"y":0,"g":70},{"x":-0.8,"y":0,"g":105},{"x":-0.4,"y":0,"g":125},{"x":0,"y":0,"g":125},{"x":0.4,"y":0,"g":115},{"x":0.8,"y":0,"g":105},{"x":1.2,"y":0,"g":85},{"x":1.6,"y":0,"g":105},{"x":2,"y":0,"g":125},{"x":2.4,"y":0,"g":170},{"x":2.8,"y":0,"g":190},{"x":3.2,"y":0,"g":205},{"x":3.6,"y":0,"g":215},
{"x":-3.6,"y":0.4,"g":215},{"x":-3.2,"y":0.4,"g":195},{"x":-2.8,"y":0.4,"g":175},{"x":-2.4,"y":0.4,"g":165},{"x":-2,"y":0.4,"g":140},{"x":-1.6,"y":0.4,"g":125},{"x":-1.2,"y":0.4,"g":105},{"x":-0.8,"y":0.4,"g":105},{"x":-0.4,"y":0.4,"g":105},{"x":0,"y":0.4,"g":105},{"x":0.4,"y":0.4,"g":105},{"x":0.8,"y":0.4,"g":80},{"x":1.2,"y":0.4,"g":70},{"x":1.6,"y":0.4,"g":70},{"x":2,"y":0.4,"g":85},{"x":2.4,"y":0.4,"g":120},{"x":2.8,"y":0.4,"g":165},{"x":3.2,"y":0.4,"g":195},{"x":3.6,"y":0.4,"g":205},{"x":4,"y":0.4,"g":215},
{"x":-3.6,"y":0.8,"g":215},{"x":-3.2,"y":0.8,"g":210},{"x":-2.8,"y":0.8,"g":195},{"x":-2.4,"y":0.8,"g":175},{"x":-2,"y":0.8,"g":150},{"x":-1.6,"y":0.8,"g":125},{"x":-1.2,"y":0.8,"g":125},{"x":-0.8,"y":0.8,"g":100},{"x":-0.4,"y":0.8,"g":90},{"x":0,"y":0.8,"g":90},{"x":0.4,"y":0.8,"g":70},{"x":0.8,"y":0.8,"g":70},{"x":1.2,"y":0.8,"g":60},{"x":1.6,"y":0.8,"g":60},{"x":2,"y":0.8,"g":60},{"x":2.4,"y":0.8,"g":85},{"x":2.8,"y":0.8,"g":135},{"x":3.2,"y":0.8,"g":160},{"x":3.6,"y":0.8,"g":185},{"x":4,"y":0.8,"g":205},{"x":4.4,"y":0.8,"g":215},
{"x":-3.2,"y":1.2,"g":205},{"x":-2.8,"y":1.2,"g":195},{"x":-2.4,"y":1.2,"g":175},{"x":-2,"y":1.2,"g":165},{"x":-1.6,"y":1.2,"g":135},{"x":-1.2,"y":1.2,"g":135},{"x":-0.8,"y":1.2,"g":105},{"x":-0.4,"y":1.2,"g":85},{"x":0,"y":1.2,"g":70},{"x":0.4,"y":1.2,"g":70},{"x":0.8,"y":1.2,"g":70},{"x":1.2,"y":1.2,"g":55},{"x":1.6,"y":1.2,"g":40},{"x":2,"y":1.2,"g":15},{"x":2.4,"y":1.2,"g":35},{"x":2.8,"y":1.2,"g":70},{"x":3.2,"y":1.2,"g":130},{"x":3.6,"y":1.2,"g":160},{"x":4,"y":1.2,"g":185},{"x":4.4,"y":1.2,"g":205},{"x":4.8,"y":1.2,"g":215},
{"x":-3.2,"y":1.6,"g":215},{"x":-2.8,"y":1.6,"g":205},{"x":-2.4,"y":1.6,"g":190},{"x":-2,"y":1.6,"g":180},{"x":-1.6,"y":1.6,"g":170},{"x":-1.2,"y":1.6,"g":165},{"x":-0.8,"y":1.6,"g":150},{"x":-0.4,"y":1.6,"g":130},{"x":0,"y":1.6,"g":100},{"x":0.4,"y":1.6,"g":100},{"x":0.8,"y":1.6,"g":45},{"x":1.2,"y":1.6,"g":35},{"x":1.6,"y":1.6,"g":25},{"x":2,"y":1.6,"g":15},{"x":2.4,"y":1.6,"g":0},{"x":2.8,"y":1.6,"g":30},{"x":3.2,"y":1.6,"g":70},{"x":3.6,"y":1.6,"g":120},{"x":4,"y":1.6,"g":150},{"x":4.4,"y":1.6,"g":190},{"x":4.8,"y":1.6,"g":210},{"x":5.2,"y":1.6,"g":215},
{"x":-4,"y":2,"g":215},{"x":-3.6,"y":2,"g":215},{"x":-3.2,"y":2,"g":215},{"x":-2.8,"y":2,"g":215},{"x":-2.4,"y":2,"g":200},{"x":-2,"y":2,"g":190},{"x":-1.6,"y":2,"g":180},{"x":-1.2,"y":2,"g":175},{"x":-0.8,"y":2,"g":165},{"x":-0.4,"y":2,"g":160},{"x":0,"y":2,"g":140},{"x":0.4,"y":2,"g":100},{"x":0.8,"y":2,"g":45},{"x":1.2,"y":2,"g":30},{"x":1.6,"y":2,"g":20},{"x":2,"y":2,"g":5},{"x":2.4,"y":2,"g":0},{"x":2.8,"y":2,"g":0},{"x":3.2,"y":2,"g":45},{"x":3.6,"y":2,"g":70},{"x":4,"y":2,"g":130},{"x":4.4,"y":2,"g":165},{"x":4.8,"y":2,"g":195},{"x":5.2,"y":2,"g":205},{"x":5.6,"y":2,"g":215},
{"x":-3.2,"y":2.4,"g":215},{"x":-2.8,"y":2.4,"g":210},{"x":-2.4,"y":2.4,"g":205},{"x":-2,"y":2.4,"g":200},{"x":-1.6,"y":2.4,"g":190},{"x":-1.2,"y":2.4,"g":185},{"x":-0.8,"y":2.4,"g":185},{"x":-0.4,"y":2.4,"g":180},{"x":0,"y":2.4,"g":165},{"x":0.4,"y":2.4,"g":125},{"x":0.8,"y":2.4,"g":75},{"x":1.2,"y":2.4,"g":30},{"x":1.6,"y":2.4,"g":20},{"x":2,"y":2.4,"g":0},{"x":2.4,"y":2.4,"g":5},{"x":2.8,"y":2.4,"g":5},{"x":3.2,"y":2.4,"g":20},{"x":3.6,"y":2.4,"g":45},{"x":4,"y":2.4,"g":115},{"x":4.4,"y":2.4,"g":145},{"x":4.8,"y":2.4,"g":180},{"x":5.2,"y":2.4,"g":195},{"x":5.6,"y":2.4,"g":212},
{"x":-2.8,"y":2.8,"g":215},{"x":-2.4,"y":2.8,"g":215},{"x":-2,"y":2.8,"g":205},{"x":-1.6,"y":2.8,"g":200},{"x":-1.2,"y":2.8,"g":195},{"x":-0.8,"y":2.8,"g":195},{"x":-0.4,"y":2.8,"g":195},{"x":0,"y":2.8,"g":170},{"x":0.4,"y":2.8,"g":160},{"x":0.8,"y":2.8,"g":115},{"x":1.2,"y":2.8,"g":55},{"x":1.6,"y":2.8,"g":20},{"x":2,"y":2.8,"g":15},{"x":2.4,"y":2.8,"g":0},{"x":2.8,"y":2.8,"g":30},{"x":3.2,"y":2.8,"g":30},{"x":3.6,"y":2.8,"g":40},{"x":4,"y":2.8,"g":80},{"x":4.4,"y":2.8,"g":135},{"x":4.8,"y":2.8,"g":165},{"x":5.2,"y":2.8,"g":185},{"x":5.6,"y":2.8,"g":205},
{"x":-2.4,"y":3.2,"g":215},{"x":-2,"y":3.2,"g":215},{"x":-1.6,"y":3.2,"g":215},{"x":-1.2,"y":3.2,"g":205},{"x":-0.8,"y":3.2,"g":205},{"x":-0.4,"y":3.2,"g":200},{"x":0,"y":3.2,"g":200},{"x":0.4,"y":3.2,"g":175},{"x":0.8,"y":3.2,"g":165},{"x":1.2,"y":3.2,"g":115},{"x":1.6,"y":3.2,"g":50},{"x":2,"y":3.2,"g":45},{"x":2.4,"y":3.2,"g":15},{"x":2.8,"y":3.2,"g":30},{"x":3.2,"y":3.2,"g":30},{"x":3.6,"y":3.2,"g":40},{"x":4,"y":3.2,"g":70},{"x":4.4,"y":3.2,"g":105},{"x":4.8,"y":3.2,"g":135},{"x":5.2,"y":3.2,"g":170},{"x":5.6,"y":3.2,"g":195},{"x":6,"y":3.2,"g":212},
{"x":-2,"y":3.6,"g":215},{"x":-1.6,"y":3.6,"g":215},{"x":-1.2,"y":3.6,"g":215},{"x":-0.8,"y":3.6,"g":210},{"x":-0.4,"y":3.6,"g":205},{"x":0,"y":3.6,"g":205},{"x":0.4,"y":3.6,"g":205},{"x":0.8,"y":3.6,"g":190},{"x":1.2,"y":3.6,"g":165},{"x":1.6,"y":3.6,"g":115},{"x":2,"y":3.6,"g":70},{"x":2.4,"y":3.6,"g":40},{"x":2.8,"y":3.6,"g":40},{"x":3.2,"y":3.6,"g":50},{"x":3.6,"y":3.6,"g":70},{"x":4,"y":3.6,"g":70},{"x":4.4,"y":3.6,"g":105},{"x":4.8,"y":3.6,"g":125},{"x":5.2,"y":3.6,"g":165},{"x":5.6,"y":3.6,"g":190},{"x":6,"y":3.6,"g":205},
{"x":-0.4,"y":4,"g":212},{"x":0,"y":4,"g":210},{"x":0.4,"y":4,"g":200},{"x":0.8,"y":4,"g":195},{"x":1.2,"y":4,"g":180},{"x":1.6,"y":4,"g":155},{"x":2,"y":4,"g":130},{"x":2.4,"y":4,"g":110},{"x":2.8,"y":4,"g":80},{"x":3.2,"y":4,"g":85},{"x":3.6,"y":4,"g":85},{"x":4,"y":4,"g":85},{"x":4.4,"y":4,"g":95},{"x":4.8,"y":4,"g":140},{"x":5.2,"y":4,"g":160},{"x":5.6,"y":4,"g":170},{"x":6,"y":4,"g":195},{"x":6.4,"y":4,"g":210},
{"x":0.4,"y":4.4,"g":210},{"x":0.8,"y":4.4,"g":210},{"x":1.2,"y":4.4,"g":200},{"x":1.6,"y":4.4,"g":180},{"x":2,"y":4.4,"g":165},{"x":2.4,"y":4.4,"g":150},{"x":2.8,"y":4.4,"g":120},{"x":3.2,"y":4.4,"g":105},{"x":3.6,"y":4.4,"g":105},{"x":4,"y":4.4,"g":120},{"x":4.4,"y":4.4,"g":135},{"x":4.8,"y":4.4,"g":155},{"x":5.2,"y":4.4,"g":160},{"x":5.6,"y":4.4,"g":175},{"x":6,"y":4.4,"g":190},{"x":6.4,"y":4.4,"g":205},{"x":6.8,"y":4.4,"g":212},
{"x":0.8,"y":4.8,"g":215},{"x":1.2,"y":4.8,"g":215},{"x":1.6,"y":4.8,"g":215},{"x":2,"y":4.8,"g":190},{"x":2.4,"y":4.8,"g":180},{"x":2.8,"y":4.8,"g":165},{"x":3.2,"y":4.8,"g":155},{"x":3.6,"y":4.8,"g":140},{"x":4,"y":4.8,"g":135},{"x":4.4,"y":4.8,"g":150},{"x":4.8,"y":4.8,"g":155},{"x":5.2,"y":4.8,"g":165},{"x":5.6,"y":4.8,"g":190},{"x":6,"y":4.8,"g":200},{"x":6.4,"y":4.8,"g":210},
{"x":1.6,"y":5.2,"g":215},{"x":2,"y":5.2,"g":205},{"x":2.4,"y":5.2,"g":200},{"x":2.8,"y":5.2,"g":180},{"x":3.2,"y":5.2,"g":170},{"x":3.6,"y":5.2,"g":165},{"x":4,"y":5.2,"g":160},{"x":4.4,"y":5.2,"g":160},{"x":4.8,"y":5.2,"g":165},{"x":5.2,"y":5.2,"g":170},{"x":5.6,"y":5.2,"g":180},{"x":6,"y":5.2,"g":190},{"x":6.4,"y":5.2,"g":205},
{"x":2,"y":5.6,"g":215},{"x":2.4,"y":5.6,"g":215},{"x":2.8,"y":5.6,"g":205},{"x":3.2,"y":5.6,"g":200},{"x":3.6,"y":5.6,"g":190},{"x":4,"y":5.6,"g":180},{"x":4.4,"y":5.6,"g":170},{"x":4.8,"y":5.6,"g":175},{"x":5.2,"y":5.6,"g":180},{"x":5.6,"y":5.6,"g":190},{"x":6,"y":5.6,"g":205},{"x":6.4,"y":5.6,"g":205},
{"x":2.8,"y":6,"g":215},{"x":3.2,"y":6,"g":210},{"x":3.6,"y":6,"g":200},{"x":4,"y":6,"g":195},{"x":4.4,"y":6,"g":185},{"x":4.8,"y":6,"g":190},{"x":5.2,"y":6,"g":200},{"x":5.6,"y":6,"g":205},{"x":6,"y":6,"g":200},{"x":6.4,"y":6,"g":205},
{"x":3.6,"y":6.4,"g":210},{"x":4,"y":6.4,"g":210},{"x":4.4,"y":6.4,"g":205},{"x":4.8,"y":6.4,"g":205},{"x":5.2,"y":6.4,"g":205},{"x":5.6,"y":6.4,"g":205},{"x":6,"y":6.4,"g":205},{"x":6.4,"y":6.4,"g":210},{"x":6.8,"y":6.4,"g":212},
{"x":4.4,"y":6.8,"g":212},{"x":4.8,"y":6.8,"g":212},{"x":5.2,"y":6.8,"g":212},{"x":5.6,"y":6.8,"g":212},{"x":6,"y":6.8,"g":212},{"x":6.4,"y":6.8,"g":212}]
},
"hconcat":[
{"width":678,"height":467,
"encoding":{"x":{"field":"x","type":"quantitative","axis":null,"scale":{"domain":[0,678],"nice":false,"zero":false}},"y":{"field":"y","type":"quantitative","axis":null,"scale":{"domain":[509,42],"nice":false,"zero":false}}},
"layer":[
{"data":{"values":[{"c":"frame","x":0,"y":0},{"c":"frame","x":1165,"y":554}]},"mark":{"type":"line","opacity":0},"encoding":{"order":{"value":null}}},
{"data":{"name":"surface"},"mark":{"type":"line","interpolate":"linear-closed","stroke":"#000","strokeWidth":0.8},"encoding":{"detail":{"field":"p"},"order":{"value":null},"fill":{"field":"f","type":"nominal","legend":null,"scale":{"domain":["t","l","r","d","e","b","m","n"],"range":["#ff4444","#e61010","#ff3333","#880000","#6e0000","#6666cc","#3c3ca8","#5f5fc8"]}}}},
{"data":{"name":"mesh"},"mark":{"type":"line","stroke":"#000","strokeWidth":1},"encoding":{"detail":{"field":"l"},"order":{"value":null}}},
{"data":{"name":"bars"},"mark":{"type":"line","interpolate":"linear-closed","stroke":"#000","strokeWidth":0.9},"encoding":{"detail":{"field":"p"},"order":{"value":null},"fill":{"field":"f","type":"nominal","legend":null,"scale":{"domain":["t","l","r","d","e","b","m","n"],"range":["#ff4444","#e61010","#ff3333","#880000","#6e0000","#6666cc","#3c3ca8","#5f5fc8"]}}}},
{"data":{"values":[{"l":"b","x":78,"y":82},{"l":"b","x":324,"y":14},{"l":"bb","x":78,"y":82},{"l":"bb","x":324,"y":122.7},{"l":"o1","x":331,"y":119.5},{"l":"o1","x":342,"y":119.5}]},"mark":{"type":"line","stroke":"#000","strokeWidth":1.5},"encoding":{"detail":{"field":"l"},"order":{"value":null}}},
{"data":{"values":[{"l":"z","x":78,"y":82},{"l":"z","x":336,"y":82}]},"mark":{"type":"line","stroke":"#000","strokeWidth":1.5,"strokeDash":[5,3.5]},"encoding":{"detail":{"field":"l"},"order":{"value":null}}},
{"data":{"values":[{"l":"r","x":90,"y":232},{"l":"r","x":104,"y":232}]},"mark":{"type":"line","stroke":"#000","strokeWidth":1},"encoding":{"detail":{"field":"l"},"order":{"value":null}}},
{"data":{"values":[{"t":"0","x":32,"y":383},{"t":"π/4","x":71,"y":420},{"t":"π/2","x":122,"y":458},{"t":"3π/4","x":168,"y":495},{"t":"π","x":234,"y":531},{"t":"π","x":256,"y":537},{"t":"3π/4","x":346,"y":517},{"t":"π/2","x":436,"y":496},{"t":"π/4","x":525,"y":474},{"t":"0","x":604,"y":453}]},"mark":{"type":"text","fontSize":18,"color":"#111"},"encoding":{"text":{"field":"t"}}},
{"data":{"values":[{"t":"LHCb MC","x":78,"y":217},{"t":"s = 14 TeV","x":91,"y":252}]},"mark":{"type":"text","fontSize":25.5,"fontWeight":"bold","align":"left","baseline":"alphabetic","color":"#000"},"encoding":{"text":{"field":"t"}}},
{"data":{"values":[{"t":"√","x":81,"y":252}]},"mark":{"type":"text","fontSize":22,"align":"left","baseline":"alphabetic","color":"#000"},"encoding":{"text":{"field":"t"}}},
{"data":{"values":[{"t":"θ","x":7,"y":472},{"t":"θ","x":431,"y":540}]},"mark":{"type":"text","fontSize":23,"align":"left","baseline":"alphabetic","color":"#000"},"encoding":{"text":{"field":"t"}}},
{"data":{"values":[{"t":"[rad]","x":37,"y":472},{"t":"[rad]","x":460,"y":540}]},"mark":{"type":"text","fontSize":24,"fontWeight":"bold","align":"left","baseline":"alphabetic","color":"#000"},"encoding":{"text":{"field":"t"}}},
{"data":{"values":[{"t":"2","x":20,"y":479},{"t":"1","x":443,"y":547}]},"mark":{"type":"text","fontSize":14,"fontWeight":"bold","align":"left","baseline":"alphabetic","color":"#000"},"encoding":{"text":{"field":"t"}}},
{"data":{"values":[{"t":"b","x":331,"y":20},{"t":"b","x":331,"y":135.7}]},"mark":{"type":"text","fontSize":18,"fontWeight":"bold","align":"left","baseline":"alphabetic","color":"#000"},"encoding":{"text":{"field":"t"}}},
{"data":{"values":[{"t":"z","x":338,"y":88}]},"mark":{"type":"text","fontSize":10,"fontWeight":"bold","align":"left","baseline":"alphabetic","color":"#000"},"encoding":{"text":{"field":"t"}}},
{"data":{"values":[{"t":"θ","x":197,"y":68},{"t":"θ","x":254,"y":102.7}]},"mark":{"type":"text","fontSize":15,"align":"left","baseline":"alphabetic","color":"#000"},"encoding":{"text":{"field":"t"}}},
{"data":{"values":[{"t":"1","x":207,"y":74},{"t":"2","x":264,"y":109}]},"mark":{"type":"text","fontSize":10,"fontWeight":"bold","align":"left","baseline":"alphabetic","color":"#000"},"encoding":{"text":{"field":"t"}}}
]},
{"width":481,"height":467,"view":{"fill":"#dedede","stroke":"#aaaaaa"},
"resolve":{"axis":{"x":"independent","y":"independent"}},
"layer":[
{"data":{"name":"heat"},"mark":{"type":"rect","binSpacing":0,"strokeWidth":0.5},"encoding":{
"x":{"field":"x","type":"quantitative","bin":{"binned":true,"step":0.4},"scale":{"domain":[-8,8],"nice":false,"zero":false},"axis":{"values":[-8,-6,-4,-2,0,2,4,6,8],"labelExpr":"'' + datum.value","title":"η₁","titleFontSize":17,"titleFontWeight":"normal","titleX":469,"titleY":20,"titleColor":"#111","labelFontSize":18,"labelColor":"#111","labelPadding":4,"labelFlush":false,"labelOverlap":false,"grid":false,"domainColor":"#000","domainWidth":2,"ticks":false}},
"y":{"field":"y","type":"quantitative","bin":{"binned":true,"step":0.4},"scale":{"domain":[-8,8],"nice":false,"zero":false},"axis":{"values":[-8,-6,-4,-2,0,2,4,6,8],"labelExpr":"'' + datum.value","title":"η₂","titleFontSize":17,"titleFontWeight":"normal","titleAngle":270,"titleX":-30,"titleY":8,"titleColor":"#111","labelFontSize":18,"labelColor":"#111","labelPadding":4,"labelFlush":false,"labelOverlap":false,"grid":false,"domainColor":"#000","domainWidth":2,"ticks":false}},
"color":{"field":"g","type":"quantitative","legend":null,"scale":{"domain":[0,222],"range":["#000000","#dedede"]}},
"stroke":{"field":"g","type":"quantitative","legend":null,"scale":{"domain":[0,222],"range":["#000000","#dedede"]}}}},
{"data":{"values":[{"e":1.8,"c":"r"},{"e":4.9,"c":"r"},{"e":-2.4,"c":"y"},{"e":2.4,"c":"y"}]},"mark":{"type":"rule","strokeWidth":1.5,"strokeDash":[3,3]},"encoding":{
"x":{"field":"e","type":"quantitative","axis":null},
"color":{"field":"c","type":"nominal","legend":null,"scale":{"domain":["r","y"],"range":["#ff0000","#ffff00"]}}}},
{"data":{"values":[{"e":1.8,"c":"r"},{"e":4.9,"c":"r"},{"e":-2.4,"c":"y"},{"e":2.4,"c":"y"}]},"mark":{"type":"rule","strokeWidth":1.5,"strokeDash":[3,3]},"encoding":{
"y":{"field":"e","type":"quantitative","axis":null},
"color":{"field":"c","type":"nominal","legend":null,"scale":{"domain":["r","y"],"range":["#ff0000","#ffff00"]}}}},
{"data":{"name":"ticks"},"mark":{"type":"rule","strokeWidth":1.3,"color":"#000"},"encoding":{"x":{"field":"v","type":"quantitative","axis":null},"y":{"field":"a","type":"quantitative","axis":null},"y2":{"field":"b"}}},
{"data":{"name":"ticks"},"mark":{"type":"rule","strokeWidth":1.3,"color":"#000"},"encoding":{"y":{"field":"v","type":"quantitative","axis":null},"x":{"field":"a","type":"quantitative","axis":null},"x2":{"field":"b"}}},
{"data":{"values":[{"a":-2.4,"b":2.4,"c":"y"},{"a":1.8,"b":4.9,"c":"r"}]},"mark":{"type":"rect","fillOpacity":0,"strokeWidth":2.6},"encoding":{"x":{"field":"a","type":"quantitative","axis":null},"x2":{"field":"b"},"y":{"field":"a","type":"quantitative","axis":null},"y2":{"field":"b"},"stroke":{"field":"c","type":"nominal","legend":null,"scale":{"domain":["r","y"],"range":["#ff0000","#ffff00"]}}}},
{"data":{"values":[{"a":-7.63,"b":-3.64,"c":5.19,"d":7.59},{"a":2.38,"b":7.59,"c":-7.6,"d":-4.8}]},"mark":{"type":"rect","fill":"#f2f2f2","stroke":"#333333","strokeWidth":1},"encoding":{"x":{"field":"a","type":"quantitative","axis":null},"x2":{"field":"b"},"y":{"field":"c","type":"quantitative","axis":null},"y2":{"field":"d"}}},
{"data":{"values":[{"a":-7.47,"b":-6.77,"y":7.0,"c":"r"},{"a":-7.47,"b":-6.77,"y":5.8,"c":"y"}]},"mark":{"type":"rule","strokeWidth":2},"encoding":{"x":{"field":"a","type":"quantitative","axis":null},"x2":{"field":"b"},"y":{"field":"y","type":"quantitative","axis":null},"color":{"field":"c","type":"nominal","legend":null,"scale":{"domain":["r","y"],"range":["#ff0000","#ffff00"]}}}},
{"data":{"values":[{"x":-6.64,"y":7.0,"t":"LHCb acceptance"},{"x":-6.64,"y":5.8,"t":"GPD acceptance"}]},"mark":{"type":"text","align":"left","fontSize":9.5,"fontWeight":"bold","color":"#111"},"encoding":{"x":{"field":"x","type":"quantitative","axis":null},"y":{"field":"y","type":"quantitative","axis":null},"text":{"field":"t"}}},
{"data":{"values":[{"x":2.51,"y":-6,"t":"LHCb MC"},{"x":3.05,"y":-7.06,"t":"s = 14 TeV"}]},"mark":{"type":"text","align":"left","baseline":"alphabetic","fontSize":26.5,"fontWeight":"bold","color":"#000"},"encoding":{"x":{"field":"x","type":"quantitative","axis":null},"y":{"field":"y","type":"quantitative","axis":null},"text":{"field":"t"}}},
{"data":{"values":[{"x":2.65,"y":-7.06,"t":"√"}]},"mark":{"type":"text","align":"left","baseline":"alphabetic","fontSize":24,"color":"#000"},"encoding":{"x":{"field":"x","type":"quantitative","axis":null},"y":{"field":"y","type":"quantitative","axis":null},"text":{"field":"t"}}},
{"data":{"values":[{"a":2.95,"b":3.5,"y":-6.39}]},"mark":{"type":"rule","strokeWidth":1,"color":"#000"},"encoding":{"x":{"field":"a","type":"quantitative","axis":null},"x2":{"field":"b"},"y":{"field":"y","type":"quantitative","axis":null}}}
]}
]}
